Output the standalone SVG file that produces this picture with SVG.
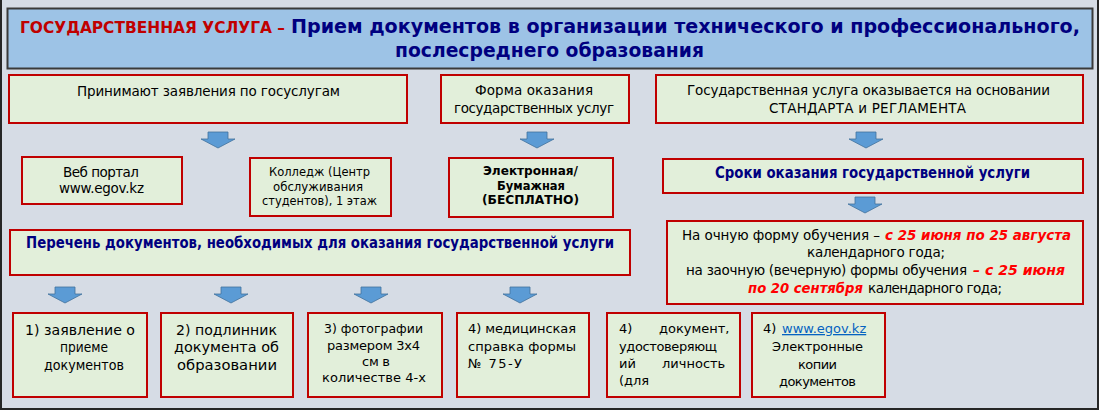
<svg xmlns="http://www.w3.org/2000/svg" width="1100" height="413" viewBox="0 0 1100 413">
<defs>
<style>
.box{fill:#e2efda;stroke:#c00000;stroke-width:2}
.t{font-family:"DejaVu Sans","Liberation Sans",sans-serif}
.b{font-weight:bold}
.navy{fill:#000080}
.rd{fill:#ff0000;font-weight:bold;font-style:italic}
.arr{fill:#5b9bd5;stroke:#41719c;stroke-width:0.8}
</style>
<path id="da" d="M -10 0 H 10 V 7 H 17 L 0 16 L -17 7 H -10 Z"/>
</defs>
<rect x="0" y="0" width="1100" height="413" fill="#ffffff"/>
<rect x="1" y="-3" width="1097" height="412" fill="#d6dce5" stroke="#262626" stroke-width="2"/>

<g id="title">
<rect x="7.5" y="8.5" width="1085" height="60" fill="#9dc3e6" stroke="#3a3a3a" stroke-width="2"/>
<text class="t b" x="20" y="33" font-size="16" fill="#c00000" textLength="265" lengthAdjust="spacingAndGlyphs">ГОСУДАРСТВЕННАЯ УСЛУГА –</text>
<text class="t b navy" x="291" y="33" font-size="19" textLength="789" lengthAdjust="spacingAndGlyphs">Прием документов в организации технического и профессионального,</text>
<text class="t b navy" x="395" y="57" font-size="19" textLength="309" lengthAdjust="spacingAndGlyphs">послесреднего образования</text>
</g>

<g id="node-accept">
<rect class="box" x="9" y="75" width="398" height="48"/>
<text class="t" x="77" y="96" font-size="13.5" textLength="263">Принимают заявления по госуслугам</text>
</g>
<g id="node-form">
<rect class="box" x="441" y="75" width="188" height="48"/>
<text class="t" x="475" y="95" font-size="13.5" textLength="118">Форма оказания</text>
<text class="t" x="454" y="113" font-size="13.5" textLength="160">государственных услуг</text>
</g>
<g id="node-basis">
<rect class="box" x="656" y="75" width="427" height="48"/>
<text class="t" x="687" y="95" font-size="13.5" textLength="363">Государственная услуга оказывается на основании</text>
<text class="t" x="769" y="113" font-size="13.5" textLength="197">СТАНДАРТА и РЕГЛАМЕНТА</text>
</g>
<g id="node-web">
<rect class="box" x="22" y="157" width="160" height="47"/>
<text class="t" x="63" y="177" font-size="13.5" textLength="76">Веб портал</text>
<text class="t" x="59" y="193" font-size="13.5" textLength="85">www.egov.kz</text>
</g>
<g id="node-college">
<rect class="box" x="250" y="158" width="141" height="58"/>
<text class="t" x="269" y="176" font-size="13" textLength="101" lengthAdjust="spacingAndGlyphs">Колледж (Центр</text>
<text class="t" x="273" y="191" font-size="13" textLength="90" lengthAdjust="spacingAndGlyphs">обслуживания</text>
<text class="t" x="262" y="205" font-size="13" textLength="115" lengthAdjust="spacingAndGlyphs">студентов), 1 этаж</text>
</g>
<g id="node-electronic">
<rect class="box" x="449" y="158" width="164" height="59"/>
<text class="t b" x="483" y="175" font-size="13" textLength="95" lengthAdjust="spacingAndGlyphs">Электронная/</text>
<text class="t b" x="497" y="190" font-size="13" textLength="68" lengthAdjust="spacingAndGlyphs">Бумажная</text>
<text class="t b" x="482" y="204" font-size="13" textLength="97" lengthAdjust="spacingAndGlyphs">(БЕСПЛАТНО)</text>
</g>
<g id="node-terms">
<rect class="box" x="663" y="159" width="420" height="34"/>
<text class="t b navy" x="715" y="178" font-size="15.5" textLength="315" lengthAdjust="spacingAndGlyphs">Сроки оказания государственной услуги</text>
</g>
<g id="node-list">
<rect class="box" x="10" y="230" width="620" height="45"/>
<text class="t b navy" x="26" y="248" font-size="15" textLength="588" lengthAdjust="spacingAndGlyphs">Перечень документов, необходимых для оказания государственной услуги</text>
</g>
<g id="node-dates">
<rect class="box" x="667" y="221" width="416" height="83"/>
<text class="t" x="682" y="240" font-size="13.5" textLength="198">На очную форму обучения –</text>
<text class="t rd" x="885" y="240" font-size="13.5" textLength="186" lengthAdjust="spacingAndGlyphs">с 25 июня по 25 августа</text>
<text class="t" x="807" y="257" font-size="13.5" textLength="138">календарного года;</text>
<text class="t" x="686" y="275" font-size="13.5" textLength="281">на заочную (вечерную) формы обучения</text>
<text class="t rd" x="973" y="275" font-size="13.5" textLength="92" lengthAdjust="spacingAndGlyphs">– с 25 июня</text>
<text class="t rd" x="748" y="293" font-size="13.5" textLength="115" lengthAdjust="spacingAndGlyphs">по 20 сентября</text>
<text class="t" x="868" y="293" font-size="13.5" textLength="134">календарного года;</text>
</g>

<g id="doc-1">
<rect class="box" x="13" y="313" width="134" height="84"/>
<text class="t" x="25" y="335" font-size="14.5" textLength="110" lengthAdjust="spacingAndGlyphs">1) заявление о</text>
<text class="t" x="60" y="352" font-size="14.5" textLength="48" lengthAdjust="spacingAndGlyphs">приеме</text>
<text class="t" x="44" y="370" font-size="14.5" textLength="80" lengthAdjust="spacingAndGlyphs">документов</text>
</g>
<g id="doc-2">
<rect class="box" x="161" y="313" width="132" height="84"/>
<text class="t" x="176" y="335" font-size="14.5" textLength="101" lengthAdjust="spacingAndGlyphs">2) подлинник</text>
<text class="t" x="174" y="352" font-size="14.5" textLength="105" lengthAdjust="spacingAndGlyphs">документа об</text>
<text class="t" x="177" y="370" font-size="14.5" textLength="100" lengthAdjust="spacingAndGlyphs">образовании</text>
</g>
<g id="doc-3">
<rect class="box" x="308" y="313" width="134" height="84"/>
<text class="t" x="324" y="333" font-size="13" textLength="99" lengthAdjust="spacingAndGlyphs">3) фотографии</text>
<text class="t" x="327" y="350" font-size="13" textLength="93">размером 3x4</text>
<text class="t" x="362" y="366" font-size="13" textLength="28">см в</text>
<text class="t" x="322" y="382" font-size="13" textLength="104">количестве 4-х</text>
</g>
<g id="doc-4">
<rect class="box" x="457" y="313" width="132" height="84"/>
<text class="t" x="468" y="333" font-size="13" textLength="108">4) медицинская</text>
<text class="t" x="468" y="351" font-size="13" textLength="108">справка формы</text>
<text class="t" x="468" y="368" font-size="13" textLength="54">№ 75-У</text>
</g>
<g id="doc-5">
<rect class="box" x="607" y="313" width="133" height="84"/>
<text class="t" x="619" y="333" font-size="13">4)<tspan x="659">документ,</tspan></text>
<text class="t" x="619" y="351" font-size="13" textLength="98">удостоверяющ</text>
<text class="t" x="619" y="368" font-size="13">ий<tspan x="662">личность</tspan></text>
<text class="t" x="619" y="385" font-size="13">(для</text>
</g>
<g id="doc-6">
<rect class="box" x="752" y="313" width="133" height="84"/>
<text class="t" x="763" y="333" font-size="13">4) <tspan x="782" fill="#0563c1" text-decoration="underline">www.egov.kz</tspan></text>
<text class="t" x="772" y="351" font-size="13" textLength="91">Электронные</text>
<text class="t" x="798" y="369" font-size="13" textLength="39">копии</text>
<text class="t" x="779" y="386" font-size="13" textLength="77">документов</text>
</g>

<g id="connectors">
<use href="#da" class="arr" x="218" y="132"/>
<use href="#da" class="arr" x="537" y="132"/>
<use href="#da" class="arr" x="866" y="132"/>
<use href="#da" class="arr" x="865" y="197"/>
<use href="#da" class="arr" x="65" y="287"/>
<use href="#da" class="arr" x="231" y="287"/>
<use href="#da" class="arr" x="371" y="287"/>
<use href="#da" class="arr" x="520" y="287"/>
</g>
</svg>
